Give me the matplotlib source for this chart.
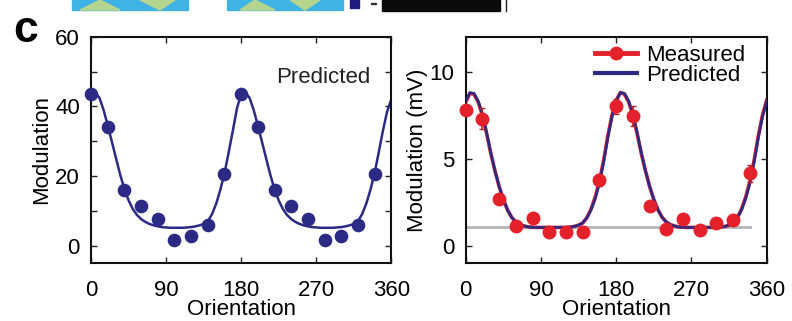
import numpy as np
import matplotlib
matplotlib.use("Agg")
import matplotlib.pyplot as plt
from matplotlib.lines import Line2D
from matplotlib.patches import Rectangle, Polygon

plt.rcParams['font.family'] = ['Liberation Sans', 'DejaVu Sans']

# orientation of the sampled stimuli (deg)
ori = [0, 20, 40, 60, 80, 100, 120, 140, 160, 180, 200, 220, 240, 260, 280, 300, 320, 340]

# left panel: predicted modulation at each orientation
pred_pts = [43.5, 34.1, 16.1, 11.3, 7.5, 1.5, 2.7, 6.0, 20.7,
            43.5, 34.1, 16.1, 11.3, 7.5, 1.5, 2.7, 6.0, 20.7]

# fitted curves, read every 5 deg
curve_x = list(range(0, 365, 5))
pred_curve = [43.8, 44.0, 42.5, 39.0, 34.5, 29.8, 25.0, 20.3, 16.2, 13.0,
              10.5, 8.8, 7.6, 6.8, 6.2, 5.8, 5.5, 5.3, 5.2, 5.1,
              5.1, 5.1, 5.1, 5.2, 5.3, 5.5, 5.8, 6.2, 7.0, 9.0,
              12.0, 16.0, 20.8, 26.8, 33.0, 39.5, 43.6, 44.0, 42.5, 39.0,
              34.5, 29.8, 25.0, 20.3, 16.2, 13.0, 10.5, 8.8, 7.6, 6.8,
              6.2, 5.8, 5.5, 5.3, 5.2, 5.1, 5.1, 5.1, 5.1, 5.2,
              5.3, 5.5, 5.8, 6.2, 7.0, 9.0, 12.0, 16.0, 20.8, 26.8,
              33.0, 38.5, 42.0]

# right panel: measured modulation (mV) and error
meas = [7.8, 7.3, 2.7, 1.15, 1.6, 0.8, 0.75, 0.8, 3.75,
        8.0, 7.45, 2.25, 0.95, 1.5, 0.9, 1.3, 1.45, 4.15]
meas_err = [0.2, 0.6, 0.2, 0.15, 0.15, 0.1, 0.1, 0.1, 0.35,
            0.45, 0.6, 0.2, 0.1, 0.15, 0.1, 0.1, 0.15, 0.5]

pred_mv = [8.3, 8.8, 8.75, 8.3, 7.55, 6.5, 5.35, 4.3, 3.4, 2.65,
           2.05, 1.62, 1.35, 1.2, 1.12, 1.07, 1.05, 1.04, 1.04, 1.04,
           1.04, 1.04, 1.04, 1.04, 1.04, 1.06, 1.1, 1.17, 1.3, 1.6,
           2.05, 2.7, 3.6, 4.8, 6.2, 7.4, 8.3, 8.8, 8.75, 8.3,
           7.55, 6.5, 5.35, 4.3, 3.4, 2.65, 2.05, 1.62, 1.35, 1.2,
           1.12, 1.07, 1.05, 1.04, 1.04, 1.04, 1.04, 1.04, 1.04, 1.04,
           1.04, 1.06, 1.1, 1.17, 1.3, 1.6, 2.05, 2.7, 3.6, 4.8,
           6.2, 7.4, 8.3]
meas_fit = [8.25, 8.75, 8.7, 8.25, 7.5, 6.45, 5.3, 4.3, 3.4, 2.65,
            2.05, 1.62, 1.35, 1.2, 1.12, 1.07, 1.05, 1.04, 1.04, 1.04,
            1.04, 1.04, 1.04, 1.04, 1.04, 1.06, 1.1, 1.17, 1.3, 1.6,
            2.1, 2.8, 3.7, 4.9, 6.3, 7.5, 8.35, 8.8, 8.7, 8.25,
            7.5, 6.45, 5.3, 4.3, 3.4, 2.65, 2.05, 1.62, 1.35, 1.2,
            1.12, 1.07, 1.05, 1.04, 1.04, 1.04, 1.04, 1.04, 1.04, 1.04,
            1.04, 1.06, 1.1, 1.17, 1.3, 1.6, 2.1, 2.8, 3.7, 4.9,
            6.3, 7.5, 8.35]
baseline = 1.05

navy = '#2b2a85'
red = '#e4202b'

fig = plt.figure(figsize=(7.92, 3.21), dpi=100)

# bits of the panels above that are cut off in the crop
def fx(p): return p / 792
def fy(p): return 1 - p / 321
for x0, x1 in [(72, 188), (227, 343)]:
    fig.add_artist(Rectangle((fx(x0), fy(10)), fx(x1 - x0), 10 / 321,
                             color='#3fb4e4', transform=fig.transFigure))
for pts in [[(80, 10), (100, 0), (120, 10)], [(140, 0), (160, 10), (175, 0)],
            [(240, 10), (255, 0), (275, 10)], [(290, 0), (305, 10), (320, 0)]]:
    fig.add_artist(Polygon([(fx(a), fy(b)) for a, b in pts], closed=True,
                           color='#b5d48e', transform=fig.transFigure))
fig.add_artist(Rectangle((fx(350), fy(8)), fx(9), 8 / 321, color='#1e1a80',
                         transform=fig.transFigure))
fig.add_artist(Rectangle((fx(371), fy(4)), fx(5), 1 / 321, color='#333333',
                         transform=fig.transFigure))
fig.add_artist(Rectangle((fx(382), fy(10.5)), fx(118), 10.5 / 321, color='#0a0a0a',
                         transform=fig.transFigure))
fig.add_artist(Line2D([fx(506), fx(506)], [fy(11), 1], color='#222222', lw=1,
                      transform=fig.transFigure))

ax1 = fig.add_axes([0.115, 0.181, 0.379, 0.704])
ax2 = fig.add_axes([0.588, 0.181, 0.380, 0.704])

fs = 16

ax1.plot(curve_x, pred_curve, color=navy, lw=1.8, zorder=2)
ax1.plot(ori, pred_pts, 'o', color=navy, ms=8.8, zorder=3, clip_on=False)
ax1.text(0.93, 0.82, 'Predicted', transform=ax1.transAxes, ha='right', va='center',
         fontsize=fs, color='#222222')
ax1.set_xlim(0, 360)
ax1.set_ylim(-5, 60)
ax1.set_yticks([0, 20, 40, 60])
ax1.set_yticks([10, 30, 50], minor=True)
ax1.set_ylabel('Modulation', fontsize=fs, labelpad=2)

ax2.plot([0, 340], [baseline, baseline], color='#b4b4b4', lw=2, zorder=1)
ax2.plot(curve_x, meas_fit, color=red, lw=2.6, zorder=2)
ax2.plot(curve_x, pred_mv, color=navy, lw=1.9, zorder=3)
ax2.errorbar(ori, meas, yerr=meas_err, fmt='o', color=red, ecolor='#b0202a',
             elinewidth=1.2, capsize=2, ms=9, zorder=4, clip_on=False)
ax2.set_xlim(0, 360)
ax2.set_ylim(-1, 12)
ax2.set_yticks([0, 5, 10])
ax2.set_ylabel('Modulation (mV)', fontsize=fs, labelpad=1)

h_meas = Line2D([], [], color=red, lw=3.5, marker='o', ms=9)
h_pred = Line2D([], [], color=navy, lw=3.0)
leg = ax2.legend([h_meas, h_pred], ['Measured', 'Predicted'], loc='upper right',
                 frameon=False, fontsize=fs, handlelength=1.9, handletextpad=0.4,
                 labelspacing=-0.05, borderaxespad=0.1, bbox_to_anchor=(0.965, 1.015))

for ax in (ax1, ax2):
    ax.set_xticks([0, 90, 180, 270, 360])
    ax.set_xlabel('Orientation', fontsize=fs, labelpad=-1)
    ax.tick_params(which='both', direction='in', top=True, right=True,
                   length=4, width=1, labelsize=fs, color='#222222')
    ax.tick_params(axis='x', pad=12)
    ax.tick_params(axis='y', pad=8)
    for s in ax.spines.values():
        s.set_linewidth(1.5)
        s.set_color('#111111')

fig.text(0.017, 0.87, 'c', fontsize=32, fontweight='bold', ha='left', va='baseline')

fig.savefig('out.png', dpi=100)
